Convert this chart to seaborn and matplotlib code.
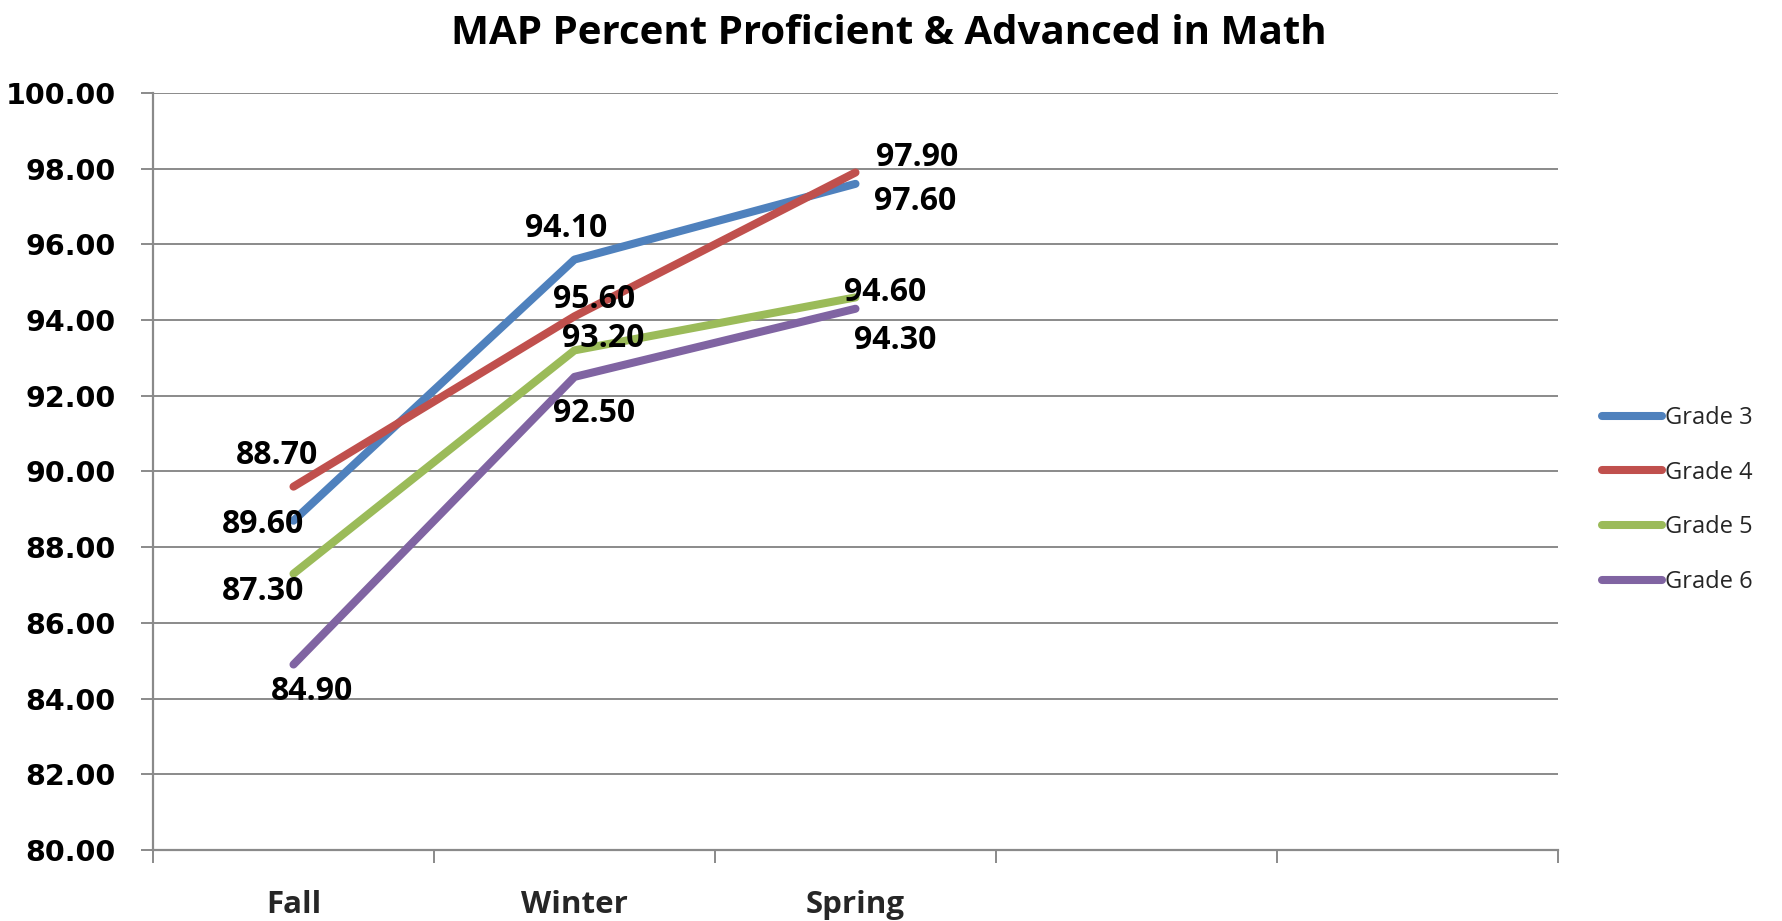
import matplotlib
matplotlib.use("Agg")
import matplotlib.pyplot as plt
import seaborn as sns
import pandas as pd
import numpy as np

# ---- data ----
categories = ["Fall", "Winter", "Spring", "", ""]
seasons = ["Fall", "Winter", "Spring"]
grades = ["Grade 3", "Grade 4", "Grade 5", "Grade 6"]
grade3 = [88.7, 95.6, 97.6]
grade4 = [89.6, 94.1, 97.9]
grade5 = [87.3, 93.2, 94.6]
grade6 = [84.9, 92.5, 94.3]
y_ticks = [80, 82, 84, 86, 88, 90, 92, 94, 96, 98, 100]
title = "MAP Percent Proficient & Advanced in Math"

# label offsets (pixels) relative to each point, per grade, per season
label_offsets = {
    "Grade 3": [(-16, 65), (20, -40), (60, -18)],
    "Grade 4": [(-30, -38), (-8, 88), (62, 15)],
    "Grade 5": [(-30, -18), (29, 12), (30, 5)],
    "Grade 6": [(19, -27), (20, -37), (40, -32)],
}

colors = ["#4F81BD", "#C0504D", "#9BBB59", "#8064A2"]

series = {"Grade 3": grade3, "Grade 4": grade4, "Grade 5": grade5, "Grade 6": grade6}
rows = []
for g in grades:
    for i, s in enumerate(seasons):
        rows.append({"Grade": g, "x": categories.index(s), "value": series[g][i]})
df = pd.DataFrame(rows)

sns.set_theme(style="white")
plt.rcParams["font.family"] = ["Open Sans", "DejaVu Sans"]
BOLD = ["Open Sans", "DejaVu Sans"]

W, H = 1783, 921
fig = plt.figure(figsize=(W / 100, H / 100), dpi=100)
left, right = 153 / W, 1558 / W
top, bottom = 1 - 93 / H, 1 - 850 / H
ax = fig.add_axes([left, bottom, right - left, top - bottom])

sns.lineplot(data=df, x="x", y="value", hue="Grade", palette=colors,
             linewidth=5.8, ax=ax, legend=True, solid_capstyle="round")

ax.set_xlim(-0.5, len(categories) - 0.5)
ax.set_ylim(80, 100)
ax.set_yticks(y_ticks)
ax.set_yticklabels([f"{v:.2f}" for v in y_ticks], fontfamily="DejaVu Sans",
                   fontweight="bold", fontsize=20.5, color="#000000")
ax.yaxis.grid(True, color="#8a8a8a", linewidth=1.4)
ax.xaxis.grid(False)
ax.tick_params(axis="y", which="major", direction="out", length=9, width=1.4,
               color="#8a8a8a", pad=18, left=True)

# x: boundary ticks as major, category labels as minor
ax.set_xticks(np.arange(-0.5, len(categories), 1.0))
ax.set_xticklabels([])
ax.set_xticks(np.arange(len(categories)), minor=True)
ax.set_xticklabels(categories, minor=True, fontweight="bold", fontsize=22.5,
                   fontfamily=BOLD)
ax.tick_params(axis="x", which="major", direction="out", length=9, width=1.4,
               color="#8a8a8a", bottom=True)
ax.tick_params(axis="x", which="minor", length=0, pad=29)
ax.set_xlabel("")
ax.set_ylabel("")

for side in ["top", "right"]:
    ax.spines[side].set_visible(False)
for side in ["left", "bottom"]:
    ax.spines[side].set_color("#8a8a8a")
    ax.spines[side].set_linewidth(1.6)

# data labels
for g in grades:
    for i, s in enumerate(seasons):
        v = series[g][i]
        dx, dy = label_offsets[g][i]
        ax.annotate(f"{v:.2f}", xy=(categories.index(s), v), xytext=(dx, dy),
                    textcoords="offset pixels", ha="center", va="center",
                    fontsize=23, fontweight="bold", color="#000000",
                    fontfamily=BOLD)

fig.text(889 / W, 1 - 33 / H, title, ha="center", va="center",
         fontsize=29, fontweight="bold", color="#000000", fontfamily=BOLD)

handles, labels = ax.get_legend_handles_labels()
leg = ax.legend(handles, labels, loc="center left",
                bbox_to_anchor=(1602 / W, 1 - 500 / H), bbox_transform=fig.transFigure,
                frameon=False, fontsize=17, handlelength=2.55, handletextpad=0.1,
                labelspacing=1.3, borderpad=0, borderaxespad=0)
for line in leg.get_lines():
    line.set_linewidth(5.8)
    line.set_solid_capstyle("round")

fig.savefig("out.png", dpi=100, facecolor="white")
